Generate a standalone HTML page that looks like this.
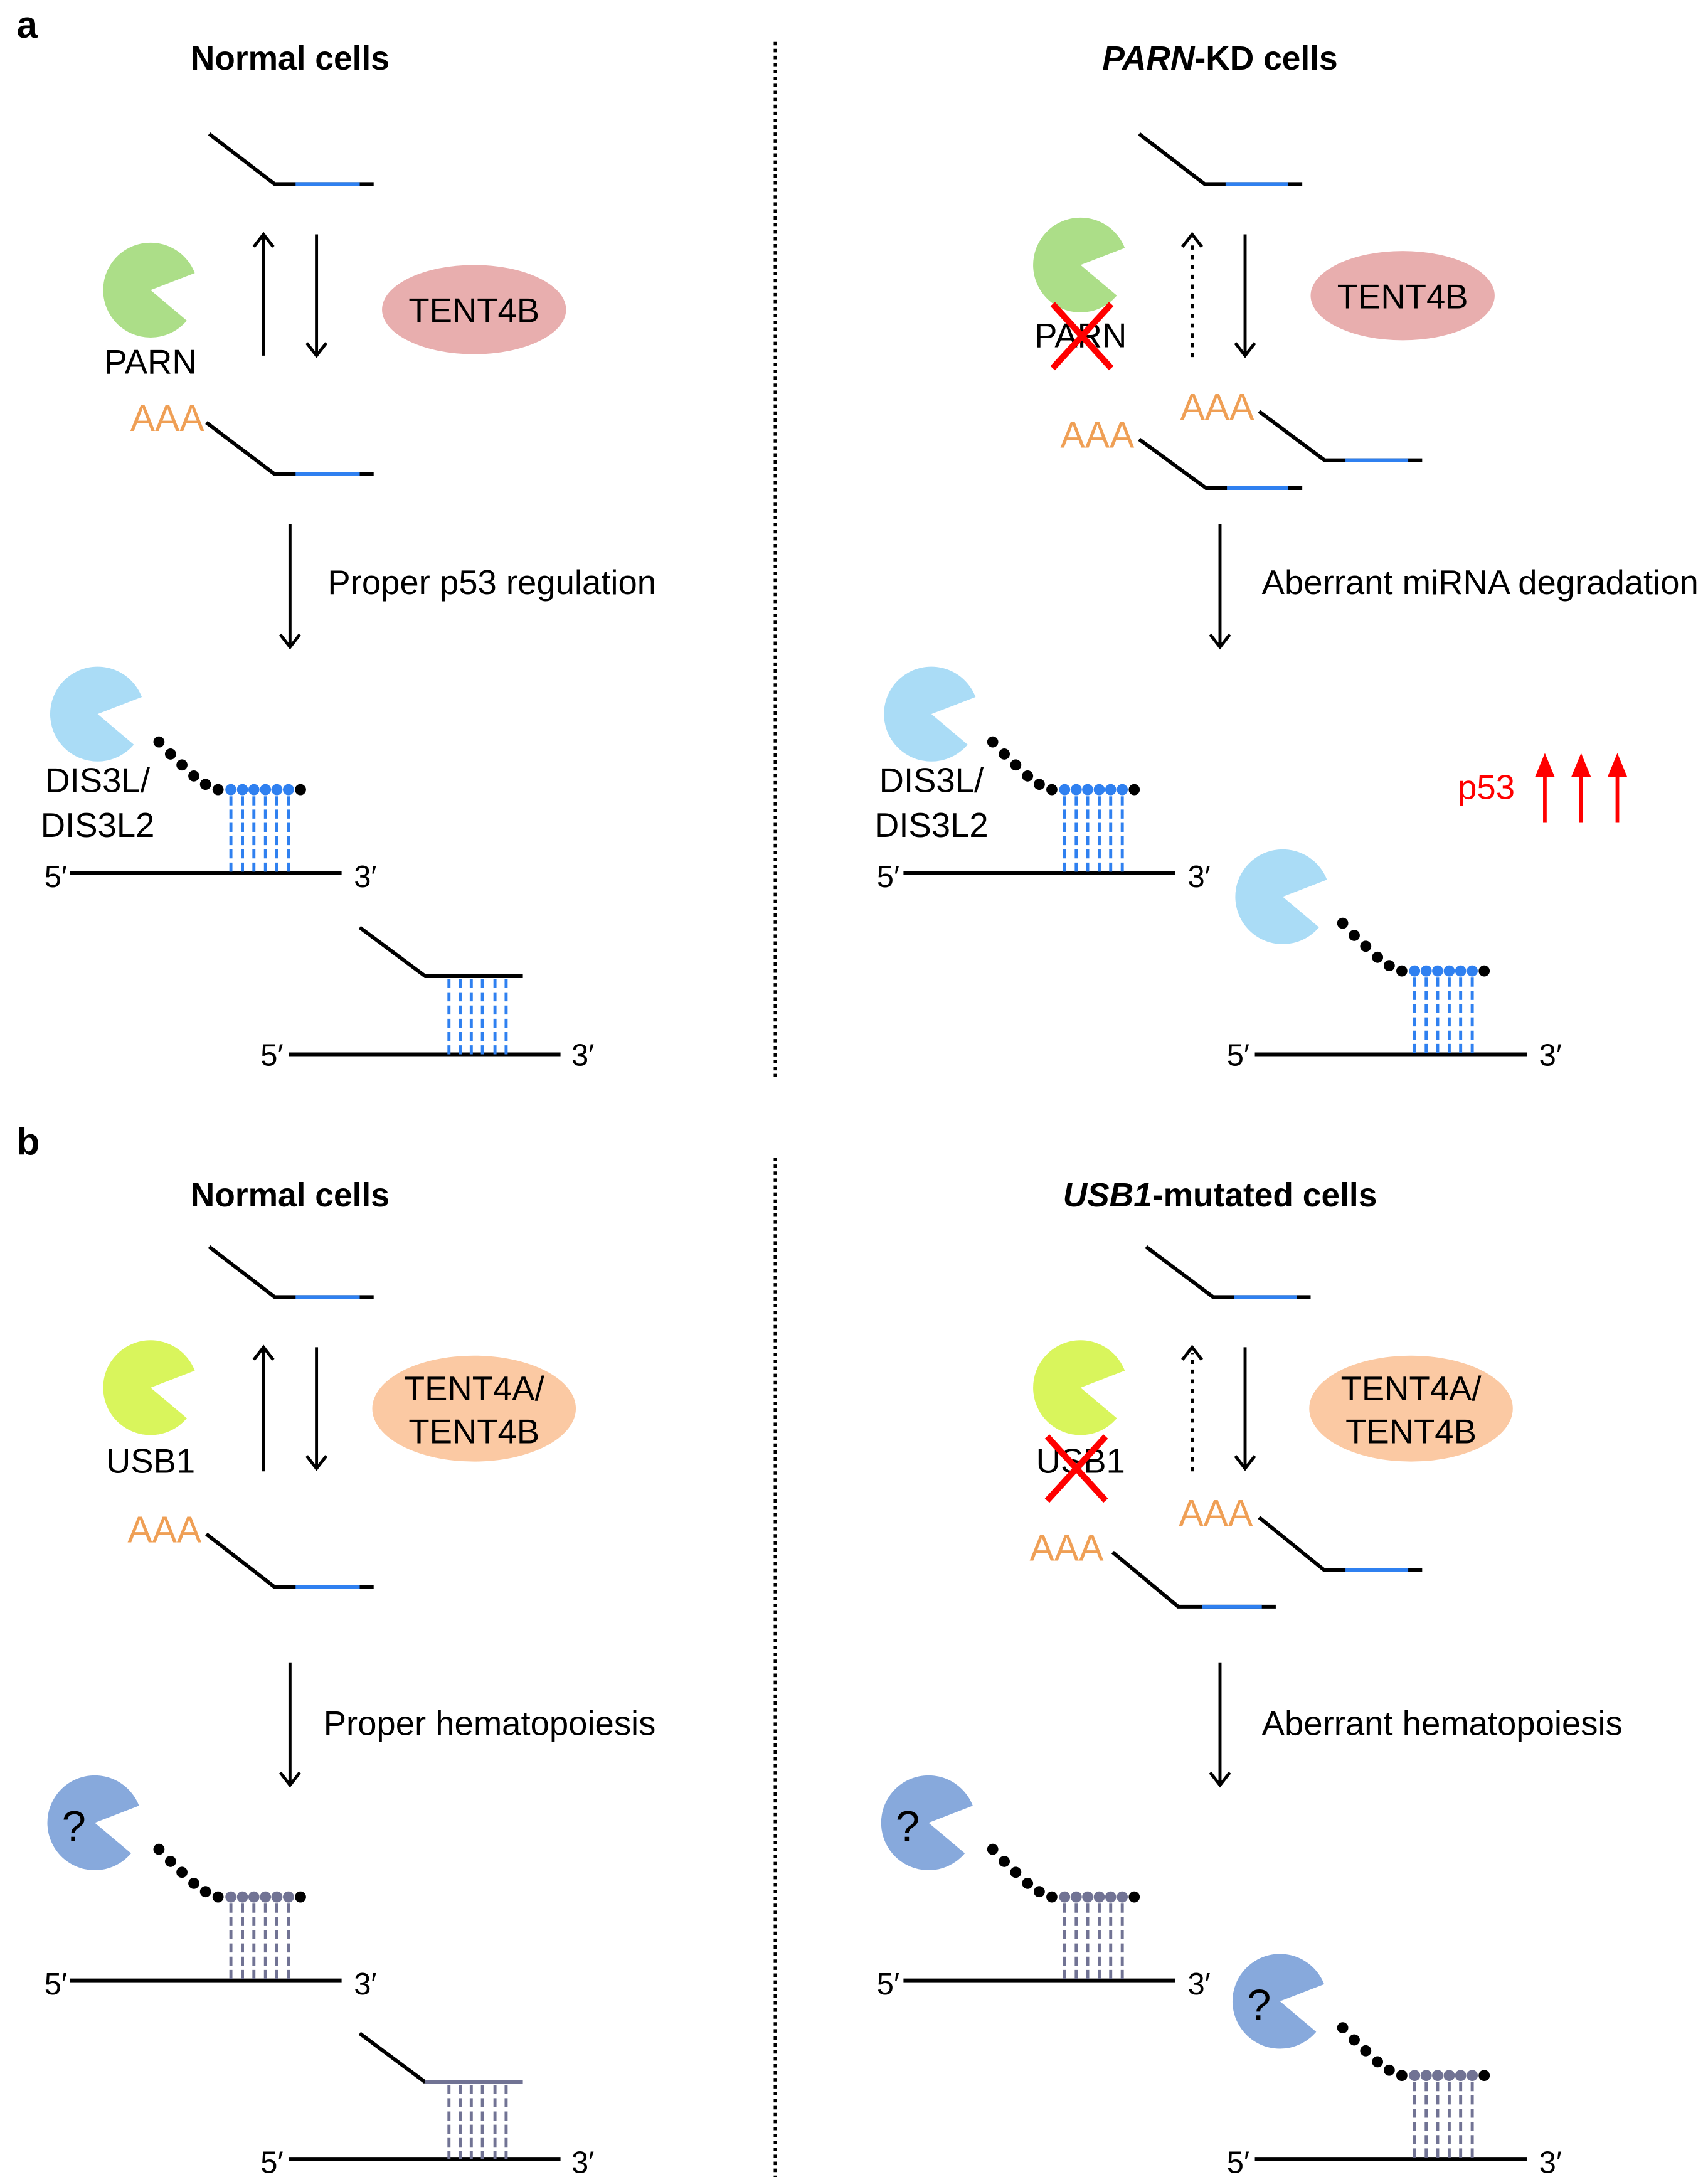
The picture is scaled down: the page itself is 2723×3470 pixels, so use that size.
<!DOCTYPE html>
<html><head><meta charset="utf-8"><style>
html,body{margin:0;padding:0;background:#fff;}
svg{display:block;}
text{font-family:"Liberation Sans",Arial,sans-serif;}
</style></head><body>
<svg width="2723" height="3470" viewBox="0 0 1225 1561" preserveAspectRatio="none" xmlns="http://www.w3.org/2000/svg">
<defs>
<g id="chainB">
 <circle cx="0" cy="0" r="4" fill="#000"/><circle cx="8.3" cy="8.7" r="4" fill="#000"/><circle cx="16.5" cy="16.5" r="4" fill="#000"/><circle cx="25" cy="24.4" r="4" fill="#000"/><circle cx="33.4" cy="30.4" r="4" fill="#000"/><circle cx="42.4" cy="34.2" r="4" fill="#000"/>
 <g fill="#2f80f0"><circle cx="51.6" cy="34.2" r="4"/><circle cx="59.9" cy="34.2" r="4"/><circle cx="68.1" cy="34.2" r="4"/><circle cx="76.4" cy="34.2" r="4"/><circle cx="84.6" cy="34.2" r="4"/><circle cx="92.9" cy="34.2" r="4"/></g>
 <circle cx="101.5" cy="34.2" r="4" fill="#000"/>
 <g stroke="#2f80f0" stroke-width="2.2" stroke-dasharray="6.5,3"><line x1="51.6" y1="39" x2="51.6" y2="94"/><line x1="59.9" y1="39" x2="59.9" y2="94"/><line x1="68.1" y1="39" x2="68.1" y2="94"/><line x1="76.4" y1="39" x2="76.4" y2="94"/><line x1="84.6" y1="39" x2="84.6" y2="94"/><line x1="92.9" y1="39" x2="92.9" y2="94"/></g>
</g>
<g id="chainG">
 <circle cx="0" cy="0" r="4" fill="#000"/><circle cx="8.3" cy="8.7" r="4" fill="#000"/><circle cx="16.5" cy="16.5" r="4" fill="#000"/><circle cx="25" cy="24.4" r="4" fill="#000"/><circle cx="33.4" cy="30.4" r="4" fill="#000"/><circle cx="42.4" cy="34.2" r="4" fill="#000"/>
 <g fill="#717394"><circle cx="51.6" cy="34.2" r="4"/><circle cx="59.9" cy="34.2" r="4"/><circle cx="68.1" cy="34.2" r="4"/><circle cx="76.4" cy="34.2" r="4"/><circle cx="84.6" cy="34.2" r="4"/><circle cx="92.9" cy="34.2" r="4"/></g>
 <circle cx="101.5" cy="34.2" r="4" fill="#000"/>
 <g stroke="#717394" stroke-width="2.2" stroke-dasharray="6.5,3"><line x1="51.6" y1="39" x2="51.6" y2="94"/><line x1="59.9" y1="39" x2="59.9" y2="94"/><line x1="68.1" y1="39" x2="68.1" y2="94"/><line x1="76.4" y1="39" x2="76.4" y2="94"/><line x1="84.6" y1="39" x2="84.6" y2="94"/><line x1="92.9" y1="39" x2="92.9" y2="94"/></g>
</g>
<path id="pac" d="M0,0 L31.7,-12.2 A34,34 0 1,0 26,21.9 Z"/>
</defs>

<g font-size="24" fill="#000">
<text x="12" y="27" font-size="27" font-weight="bold">a</text>
<text x="12" y="828" font-size="27" font-weight="bold">b</text>
<text x="208" y="50" text-anchor="middle" font-weight="bold">Normal cells</text>
<text x="875" y="50" text-anchor="middle" font-weight="bold"><tspan font-style="italic">PARN</tspan>-KD cells</text>
<text x="208" y="865" text-anchor="middle" font-weight="bold">Normal cells</text>
<text x="875" y="865" text-anchor="middle" font-weight="bold"><tspan font-style="italic">USB1</tspan>-mutated cells</text>
</g>

<g stroke="#000" stroke-width="2.2" stroke-dasharray="2.5,2.5">
<line x1="556" y1="30" x2="556" y2="772"/>
<line x1="556" y1="830" x2="556" y2="1561"/>
</g>

<g fill="none" stroke-width="2.7">
<polyline points="150,96 197,132 268,132" stroke="#000"/><line x1="212" y1="132" x2="258" y2="132" stroke="#2f80f0"/>
<polyline points="148,303 197,340 268,340" stroke="#000"/><line x1="212" y1="340" x2="258" y2="340" stroke="#2f80f0"/>
<line x1="50" y1="626" x2="245" y2="626" stroke="#000"/>
<polyline points="258,665 305,700 375,700" stroke="#000"/>
<line x1="207" y1="756" x2="402" y2="756" stroke="#000"/>
<polyline points="817,96 864,132 934,132" stroke="#000"/><line x1="879" y1="132" x2="924" y2="132" stroke="#2f80f0"/>
<polyline points="903,295 950,330 1020,330" stroke="#000"/><line x1="965" y1="330" x2="1010" y2="330" stroke="#2f80f0"/>
<polyline points="817,315 865,350 934,350" stroke="#000"/><line x1="880" y1="350" x2="924" y2="350" stroke="#2f80f0"/>
<line x1="648" y1="626" x2="843" y2="626" stroke="#000"/>
<line x1="900" y1="756" x2="1095" y2="756" stroke="#000"/>
<polyline points="150,894 197,930 268,930" stroke="#000"/><line x1="212" y1="930" x2="258" y2="930" stroke="#2f80f0"/>
<polyline points="148,1100 197,1138 268,1138" stroke="#000"/><line x1="212" y1="1138" x2="258" y2="1138" stroke="#2f80f0"/>
<line x1="50" y1="1420" x2="245" y2="1420" stroke="#000"/>
<polyline points="258,1458 305,1493" stroke="#000"/><line x1="305" y1="1493" x2="375" y2="1493" stroke="#717394"/>
<line x1="207" y1="1548" x2="402" y2="1548" stroke="#000"/>
<polyline points="822,894 870,930 940,930" stroke="#000"/><line x1="885" y1="930" x2="930" y2="930" stroke="#2f80f0"/>
<polyline points="903,1088 950,1126 1020,1126" stroke="#000"/><line x1="965" y1="1126" x2="1010" y2="1126" stroke="#2f80f0"/>
<polyline points="798,1113 845,1152 915,1152" stroke="#000"/><line x1="862" y1="1152" x2="905" y2="1152" stroke="#2f80f0"/>
<line x1="648" y1="1420" x2="843" y2="1420" stroke="#000"/>
<line x1="900" y1="1548" x2="1095" y2="1548" stroke="#000"/>
</g>

<g stroke="#2f80f0" stroke-width="2.2" stroke-dasharray="6.5,3">
<line x1="322" y1="702" x2="322" y2="756"/><line x1="330" y1="702" x2="330" y2="756"/><line x1="338" y1="702" x2="338" y2="756"/><line x1="346" y1="702" x2="346" y2="756"/><line x1="355" y1="702" x2="355" y2="756"/><line x1="363" y1="702" x2="363" y2="756"/>
</g>
<g stroke="#717394" stroke-width="2.2" stroke-dasharray="6.5,3">
<line x1="322" y1="1495" x2="322" y2="1548"/><line x1="330" y1="1495" x2="330" y2="1548"/><line x1="338" y1="1495" x2="338" y2="1548"/><line x1="346" y1="1495" x2="346" y2="1548"/><line x1="355" y1="1495" x2="355" y2="1548"/><line x1="363" y1="1495" x2="363" y2="1548"/>
</g>

<use href="#chainB" x="114" y="532"/>
<use href="#chainB" x="712" y="532"/>
<use href="#chainB" x="963" y="662"/>
<use href="#chainG" x="114" y="1326"/>
<use href="#chainG" x="712" y="1326"/>
<use href="#chainG" x="963" y="1454"/>

<use href="#pac" x="108" y="208" fill="#acde88"/>
<use href="#pac" x="775" y="190" fill="#acde88"/>
<use href="#pac" x="70" y="512" fill="#aadcf6"/>
<use href="#pac" x="668" y="512" fill="#aadcf6"/>
<use href="#pac" x="920" y="643" fill="#aadcf6"/>
<use href="#pac" x="108" y="995" fill="#d9f55c"/>
<use href="#pac" x="775" y="995" fill="#d9f55c"/>
<use href="#pac" x="68" y="1307" fill="#87a9dc"/>
<use href="#pac" x="666" y="1307" fill="#87a9dc"/>
<use href="#pac" x="918" y="1435" fill="#87a9dc"/>

<ellipse cx="340" cy="222" rx="66" ry="32" fill="#e8aeae"/>
<ellipse cx="1006" cy="212" rx="66" ry="32" fill="#e8aeae"/>
<ellipse cx="340" cy="1010" rx="73" ry="38" fill="#fbc9a3"/>
<ellipse cx="1012" cy="1010" rx="73" ry="38" fill="#fbc9a3"/>

<g stroke="#000" stroke-width="2.2" fill="none">
<line x1="189" y1="255" x2="189" y2="168"/><polyline points="182,177 189,168 196,177"/>
<line x1="227" y1="168" x2="227" y2="255"/><polyline points="220,246 227,255 234,246"/>
<line x1="208" y1="376" x2="208" y2="464"/><polyline points="201,455 208,464 215,455"/>
<line x1="855" y1="256" x2="855" y2="172" stroke-dasharray="3,4"/><polyline points="848,177 855,168 862,177"/>
<line x1="893" y1="168" x2="893" y2="255"/><polyline points="886,246 893,255 900,246"/>
<line x1="875" y1="376" x2="875" y2="464"/><polyline points="868,455 875,464 882,455"/>
<line x1="189" y1="1055" x2="189" y2="966"/><polyline points="182,975 189,966 196,975"/>
<line x1="227" y1="966" x2="227" y2="1053"/><polyline points="220,1044 227,1053 234,1044"/>
<line x1="208" y1="1192" x2="208" y2="1280"/><polyline points="201,1271 208,1280 215,1271"/>
<line x1="855" y1="1055" x2="855" y2="970" stroke-dasharray="3,4"/><polyline points="848,975 855,966 862,975"/>
<line x1="893" y1="966" x2="893" y2="1053"/><polyline points="886,1044 893,1053 900,1044"/>
<line x1="875" y1="1192" x2="875" y2="1280"/><polyline points="868,1271 875,1280 882,1271"/>
</g>
<g stroke="#f00" stroke-width="2.6" fill="#f00">
<line x1="1108" y1="590" x2="1108" y2="555"/><polygon points="1101,557 1108,540 1115,557" stroke="none"/>
<line x1="1134" y1="590" x2="1134" y2="555"/><polygon points="1127,557 1134,540 1141,557" stroke="none"/>
<line x1="1160" y1="590" x2="1160" y2="555"/><polygon points="1153,557 1160,540 1167,557" stroke="none"/>
</g>

<g font-size="24.5" fill="#000">
<text x="108" y="268" text-anchor="middle">PARN</text>
<text x="775" y="249" text-anchor="middle">PARN</text>
<text x="340" y="231" text-anchor="middle">TENT4B</text>
<text x="1006" y="221" text-anchor="middle">TENT4B</text>
<text x="235" y="426">Proper p53 regulation</text>
<text x="905" y="426">Aberrant miRNA degradation</text>
<text x="70" y="568" text-anchor="middle">DIS3L/</text>
<text x="70" y="600" text-anchor="middle">DIS3L2</text>
<text x="668" y="568" text-anchor="middle">DIS3L/</text>
<text x="668" y="600" text-anchor="middle">DIS3L2</text>
<text x="1066" y="573" text-anchor="middle" fill="#f00">p53</text>
<text x="108" y="1056" text-anchor="middle">USB1</text>
<text x="775" y="1056" text-anchor="middle">USB1</text>
<text x="340" y="1004" text-anchor="middle">TENT4A/</text>
<text x="340" y="1035" text-anchor="middle">TENT4B</text>
<text x="1012" y="1004" text-anchor="middle">TENT4A/</text>
<text x="1012" y="1035" text-anchor="middle">TENT4B</text>
<text x="232" y="1244">Proper hematopoiesis</text>
<text x="905" y="1244">Aberrant hematopoiesis</text>
<g font-size="31"><text x="53" y="1320" text-anchor="middle">?</text><text x="651" y="1320" text-anchor="middle">?</text><text x="903" y="1448" text-anchor="middle">?</text></g>
<g fill="#ef9f55" font-size="26.5">
<text x="120" y="309" text-anchor="middle">AAA</text>
<text x="873" y="301" text-anchor="middle">AAA</text>
<text x="787" y="321" text-anchor="middle">AAA</text>
<text x="118" y="1106" text-anchor="middle">AAA</text>
<text x="872" y="1094" text-anchor="middle">AAA</text>
<text x="765" y="1119" text-anchor="middle">AAA</text>
</g>
<g font-size="22">
<text x="40" y="636" text-anchor="middle">5′</text><text x="262" y="636" text-anchor="middle">3′</text>
<text x="195" y="764" text-anchor="middle">5′</text><text x="418" y="764" text-anchor="middle">3′</text>
<text x="637" y="636" text-anchor="middle">5′</text><text x="860" y="636" text-anchor="middle">3′</text>
<text x="888" y="764" text-anchor="middle">5′</text><text x="1112" y="764" text-anchor="middle">3′</text>
<text x="40" y="1430" text-anchor="middle">5′</text><text x="262" y="1430" text-anchor="middle">3′</text>
<text x="195" y="1558" text-anchor="middle">5′</text><text x="418" y="1558" text-anchor="middle">3′</text>
<text x="637" y="1430" text-anchor="middle">5′</text><text x="860" y="1430" text-anchor="middle">3′</text>
<text x="888" y="1558" text-anchor="middle">5′</text><text x="1112" y="1558" text-anchor="middle">3′</text>
</g>
</g>

<g stroke="#f00" stroke-width="4.5">
<line x1="755" y1="218" x2="797" y2="264"/><line x1="797" y1="218" x2="755" y2="264"/>
<line x1="751" y1="1030" x2="793" y2="1076"/><line x1="793" y1="1030" x2="751" y2="1076"/>
</g>
</svg>
</body></html>
